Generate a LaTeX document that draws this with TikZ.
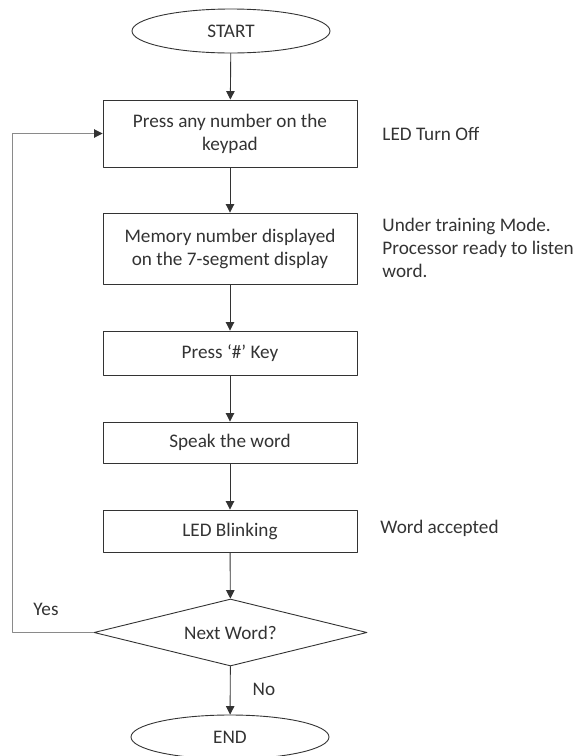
\documentclass[tikz,border=0pt]{standalone}
\usepackage{fontspec}
\setmainfont{Carlito}
\usetikzlibrary{shapes.geometric,arrows.meta}
\definecolor{inkgray}{HTML}{333333}
\definecolor{loopgray}{HTML}{8A8A8A}

\begin{document}
\begin{tikzpicture}[x=1pt,y=-1pt,line cap=round,line join=round,>={Triangle[width=8.5pt,length=8.5pt]},
    font=\fontsize{19.2}{23}\selectfont,color=inkgray,line width=0.9pt,
    term/.style={ellipse,draw,minimum width=198pt,minimum height=44pt,inner sep=0pt},
    box/.style={rectangle,draw,minimum width=254pt,minimum height=#1,align=center,inner sep=2pt},
    box/.default=44pt,
    decision/.style={diamond,draw,aspect=4,minimum width=273pt,minimum height=67pt,inner sep=0pt},
    note/.style={anchor=west,align=left,inner sep=0pt}]
    \useasboundingbox (0,0) rectangle (577,756);
    % main column
    \node[term] (start) at (231,31) {START};
    \node[box=67pt] (press) at (230,133.5) {Press any number on the\\keypad};
    \node[box=71pt] (memory) at (230,248.5) {Memory number displayed\\on the 7-segment display};
    \node[box=44pt] (hash) at (230,353) {Press ‘\#’ Key};
    \node[box=41pt] (speak) at (230,442.5) {Speak the word};
    \node[box=42pt] (blink) at (230,531) {LED Blinking};
    \node[decision] (next) at (230.5,632.5) {Next Word?};
    \node[term] (end) at (230,737) {END};
    % side notes
    \node[note] (off) at (382,134) {LED Turn Off};
    \node[note] (mode) at (382,248) {Under training Mode.\\Processor ready to listen\\word.};
    \node[note] (accepted) at (380,528) {Word accepted};
    \node (yes) at (46,609) {Yes};
    \node (no) at (264,689) {No};
    % arrows
    \draw[->] (start) -- (press);
    \draw[->] (press) -- (memory);
    \draw[->] (memory) -- (hash);
    \draw[->] (hash) -- (speak);
    \draw[->] (speak) -- (blink);
    \draw[->] (blink) -- (next);
    \draw[->] (next) -- (end);
    \coordinate (loopbot) at (12,632.5);
    \coordinate (looptop) at (12,133.5);
    \draw[-{Triangle[width=8.5pt,length=8.5pt,color=inkgray]},draw=loopgray] (next.west) -- (loopbot) -- (looptop) -- (press.west);
\end{tikzpicture}
\end{document}
